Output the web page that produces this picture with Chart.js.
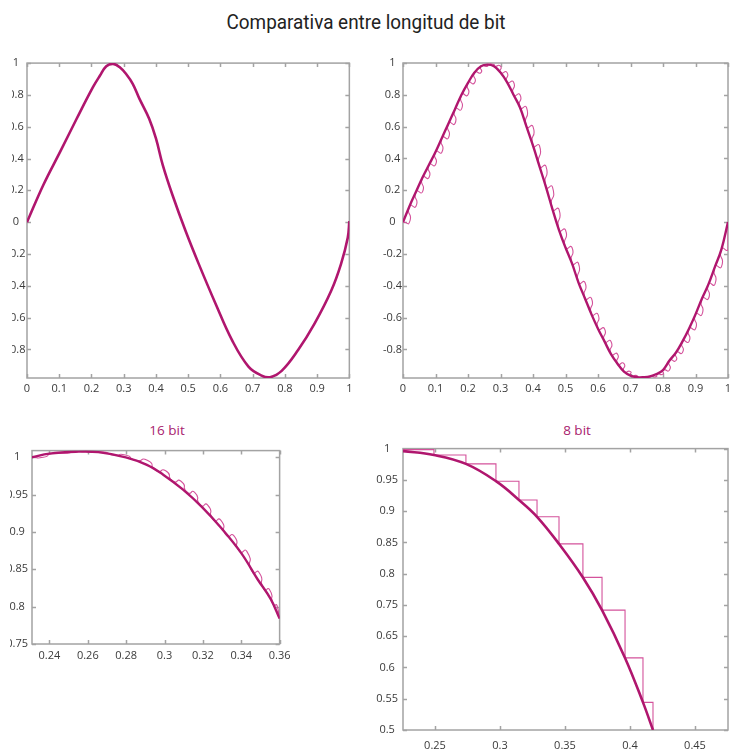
<!DOCTYPE html>
<html><head><meta charset="utf-8">
<script src="https://cdn.jsdelivr.net/npm/chart.js@4"></script>
<style>
html,body{margin:0;padding:0;background:#fff;width:738px;height:749px;overflow:hidden;position:relative;}
canvas{position:absolute;}
#title{position:absolute;left:0;width:732px;top:9px;text-align:center;}
#title span{display:inline-block;font-family:"Roboto",sans-serif;font-size:21px;line-height:26px;color:#222;transform:scaleX(0.9);transform-origin:center;}
.sub{position:absolute;font-family:"Open Sans",sans-serif;font-size:13.5px;line-height:18px;color:#A81C6E;text-align:center;width:100px;top:421px;}
</style></head>
<body>
<div id="title"><span>Comparativa entre longitud de bit</span></div>
<div class="sub" style="left:117px">16 bit</div>
<div class="sub" style="left:527px">8 bit</div>
<canvas id="c1" width="345" height="345" style="left:12px;top:55px"></canvas>
<canvas id="c2" width="365" height="345" style="left:373px;top:55px"></canvas>
<canvas id="c3" width="286" height="224" style="left:10px;top:440px"></canvas>
<canvas id="c4" width="365" height="323" style="left:373px;top:437px"></canvas>
<script>
// ---------- tick values / labels ----------
const fullXTicks = [0, 0.1, 0.2, 0.3, 0.4, 0.5, 0.6, 0.7, 0.8, 0.9, 1];
const fullXLabels = ['0', '0.1', '0.2', '0.3', '0.4', '0.5', '0.6', '0.7', '0.8', '0.9', '1'];
const fullYTicks = [-0.8, -0.6, -0.4, -0.2, 0, 0.2, 0.4, 0.6, 0.8, 1];
const fullYLabels = ['-0.8', '-0.6', '-0.4', '-0.2', '0', '0.2', '0.4', '0.6', '0.8', '1'];
const b16XTicks = [0.24, 0.26, 0.28, 0.3, 0.32, 0.34, 0.36];
const b16XLabels = ['0.24', '0.26', '0.28', '0.3', '0.32', '0.34', '0.36'];
const b16YTicks = [0.75, 0.8, 0.85, 0.9, 0.95, 1];
const b16YLabels = ['0.75', '0.8', '0.85', '0.9', '0.95', '1'];
const b8XTicks = [0.25, 0.3, 0.35, 0.4, 0.45];
const b8XLabels = ['0.25', '0.3', '0.35', '0.4', '0.45'];
const b8YLabels = ['0.5', '0.55', '0.6', '0.65', '0.75', '0.8', '0.85', '0.9', '0.95', '1'];

// ---------- top-left: original signal ----------
const tlX = [0, 0.051, 0.103, 0.154, 0.205, 0.226, 0.246, 0.267, 0.287, 0.308, 0.328, 0.349, 0.379, 0.4, 0.421, 0.451, 0.492, 0.533, 0.585, 0.636, 0.687, 0.728, 0.754, 0.79, 0.841, 0.892, 0.944, 0.974, 0.995, 1.0];
const tlY = [0, 0.235, 0.443, 0.65, 0.85, 0.92, 0.98, 0.995, 0.975, 0.93, 0.87, 0.775, 0.65, 0.526, 0.36, 0.172, -0.056, -0.264, -0.513, -0.742, -0.908, -0.965, -0.975, -0.935, -0.804, -0.638, -0.43, -0.264, -0.098, 0.006];

// ---------- top-right: signal + quantised signal ----------
const trX = [0, 0.02, 0.04, 0.06, 0.08, 0.10, 0.12, 0.14, 0.16, 0.18, 0.20, 0.22, 0.24, 0.26, 0.28, 0.30, 0.32, 0.34, 0.36, 0.38, 0.40, 0.42, 0.44, 0.46, 0.48, 0.50, 0.52, 0.54, 0.56, 0.58, 0.60, 0.62, 0.64, 0.66, 0.68, 0.70, 0.72, 0.74, 0.76, 0.78, 0.80, 0.82, 0.84, 0.86, 0.88, 0.90, 0.92, 0.94, 0.96, 0.98, 1.00];
const trY = [0, 0.10, 0.19, 0.28, 0.36, 0.44, 0.53, 0.62, 0.71, 0.80, 0.875, 0.94, 0.98, 0.99, 0.98, 0.94, 0.88, 0.80, 0.72, 0.60, 0.48, 0.35, 0.22, 0.08, -0.05, -0.16, -0.26, -0.38, -0.48, -0.58, -0.67, -0.75, -0.83, -0.89, -0.94, -0.965, -0.975, -0.975, -0.97, -0.955, -0.93, -0.87, -0.82, -0.75, -0.67, -0.58, -0.48, -0.39, -0.28, -0.17, 0.0];

// ---------- bottom-left: 16 bit ----------
const b16CurveX = [0.2307, 0.24, 0.2536, 0.2654, 0.2798, 0.2908, 0.2993, 0.3095, 0.3197, 0.3298, 0.34, 0.3485, 0.3553, 0.36];
const b16CurveY = [1.0, 1.005, 1.0075, 1.007, 1.0, 0.99, 0.9768, 0.957, 0.933, 0.9046, 0.8717, 0.8367, 0.8104, 0.784];
const b16StepX = [0.2307, 0.2417, 0.2536, 0.2629, 0.2731, 0.2849, 0.2959, 0.3044, 0.312, 0.3188, 0.3256, 0.3324, 0.3392, 0.3459, 0.3519, 0.3569, 0.36];
const b16HoldX = [0.2368, 0.2482, 0.2587, 0.2685, 0.2796, 0.2910, 0.3006, 0.3086, 0.3157, 0.3225, 0.3293, 0.3361, 0.3429, 0.3492, 0.3547, 0.3586];
const b16StepY = [1.0, 1.0055, 1.0075, 1.007, 1.003, 0.996, 0.982, 0.968, 0.953, 0.936, 0.916, 0.895, 0.874, 0.846, 0.823, 0.802, 0.784];

// ---------- bottom-right: 8 bit ----------
const b8CurveX = [0.2254, 0.2492, 0.2738, 0.2969, 0.3146, 0.3285, 0.3454, 0.3638, 0.3785, 0.3962, 0.41, 0.4177];
const b8CurveY = [0.9956, 0.9886, 0.9728, 0.9421, 0.9088, 0.8789, 0.8307, 0.7711, 0.713, 0.6281, 0.5491, 0.5];
const b8StepX = [0.2254, 0.2492, 0.2738, 0.2969, 0.3146, 0.3285, 0.3454, 0.3638, 0.3785, 0.3962, 0.41, 0.4177];
const b8StepY = [0.9982, 0.9886, 0.9728, 0.9421, 0.9088, 0.8789, 0.8307, 0.7711, 0.713, 0.6281, 0.5491, 0.5];

// ---------- helpers ----------
const MAIN = '#B0166E', THIN = '#D4529B', FRAME = '#a3a3a3';
const pts = (xs, ys) => xs.map((x, i) => ({x, y: ys[i]}));
function stairs(xs, ys, holds) {
  const out = [{x: xs[0], y: ys[0]}];
  for (let i = 1; i < xs.length; i++) {
    out.push({x: holds ? holds[i - 1] : xs[i], y: ys[i - 1]});
    out.push({x: xs[i], y: ys[i]});
  }
  return out;
}
const frameTicks = {
  id: 'frameTicks',
  beforeDatasetsDraw(chart) {
    const {ctx, chartArea: a, scales: {x, y}} = chart;
    ctx.save();
    ctx.strokeStyle = FRAME; ctx.lineWidth = 1.5;
    ctx.strokeRect(a.left, a.top, a.right - a.left, a.bottom - a.top);
    const L = 4;
    ctx.beginPath();
    x.ticks.forEach(t => {
      const p = Math.round(x.getPixelForValue(t.value)) + 0.5;
      ctx.moveTo(p, a.bottom); ctx.lineTo(p, a.bottom - L);
      ctx.moveTo(p, a.top); ctx.lineTo(p, a.top + L);
    });
    y.ticks.forEach(t => {
      const p = Math.round(y.getPixelForValue(t.value)) + 0.5;
      ctx.moveTo(a.left, p); ctx.lineTo(a.left + L, p);
      ctx.moveTo(a.right, p); ctx.lineTo(a.right - L, p);
    });
    ctx.stroke();
    ctx.restore();
  }
};
const FONT = {family: '"Open Sans", sans-serif', size: 11};
function xAxis(min, max, vals, labels, h, pad) {
  return {
    type: 'linear', min, max,
    afterBuildTicks: s => { s.ticks = vals.map(v => ({value: v})); },
    afterFit: s => { s.height = h; },
    grid: {display: false, drawTicks: false}, border: {display: false},
    ticks: {font: FONT, color: '#3a3a3a', padding: pad, maxRotation: 0, autoSkip: false,
            callback: (v, i) => labels[i]}
  };
}
function yAxis(min, max, vals, labels, w, pad) {
  return {
    type: 'linear', min, max,
    afterBuildTicks: s => { s.ticks = vals.map(v => ({value: v})); },
    afterFit: s => { s.width = w; },
    grid: {display: false, drawTicks: false}, border: {display: false},
    ticks: {font: FONT, color: '#3a3a3a', padding: pad, crossAlign: 'center', autoSkip: false,
            callback: (v, i) => labels[i]}
  };
}
function make(id, datasets, scales, padding) {
  new Chart(document.getElementById(id), {
    type: 'scatter',
    data: {datasets},
    options: {
      responsive: false, animation: false, events: [],
      layout: {padding},
      plugins: {legend: {display: false}, tooltip: {enabled: false}, title: {display: false}},
      elements: {point: {radius: 0}},
      scales
    },
    plugins: [frameTicks]
  });
}
const mainDs = (data, w) => ({data, showLine: true, borderColor: MAIN, borderWidth: w, tension: 0.4, pointRadius: 0});
const thinDs = (data, tension) => ({data, showLine: true, borderColor: THIN, borderWidth: 1.1, tension, pointRadius: 0});

make('c1', [mainDs(pts(tlX, tlY), 2.6)],
  {x: xAxis(0, 1, fullXTicks, fullXLabels, 22, 4.5), y: yAxis(-0.98, 1, fullYTicks, fullYLabels, 15, 1.5)},
  {top: 8, right: 5, left: 0, bottom: 0});

make('c2', [mainDs(pts(trX, trY), 2.4), thinDs(stairs(trX, trY), 0.9)],
  {x: xAxis(0, 1, fullXTicks, fullXLabels, 22, 4.5), y: yAxis(-0.98, 1, fullYTicks, fullYLabels, 30, 1)},
  {top: 8, right: 10, left: 0, bottom: 0});

make('c3', [mainDs(pts(b16CurveX, b16CurveY), 2.4), thinDs(stairs(b16StepX, b16StepY, b16HoldX), 0.9)],
  {x: xAxis(0.2309, 0.36, b16XTicks, b16XLabels, 20, 5.5), y: yAxis(0.75, 1.009, b16YTicks, b16YLabels, 22, 4)},
  {top: 7, right: 10, left: 0, bottom: 0});

const b8YTicks = b8YLabels.map((_, k) => 0.5 + k * 0.5 / (b8YLabels.length - 1));
make('c4', [mainDs(pts(b8CurveX, b8CurveY), 2.6), thinDs(stairs(b8StepX, b8StepY), 0)],
  {x: xAxis(0.2254, 0.4754, b8XTicks, b8XLabels, 30, 9.5), y: yAxis(0.5, 1, b8YTicks, b8YLabels, 30, 5)},
  {top: 7, right: 10, left: 0, bottom: 0});
</script>
</body></html>
